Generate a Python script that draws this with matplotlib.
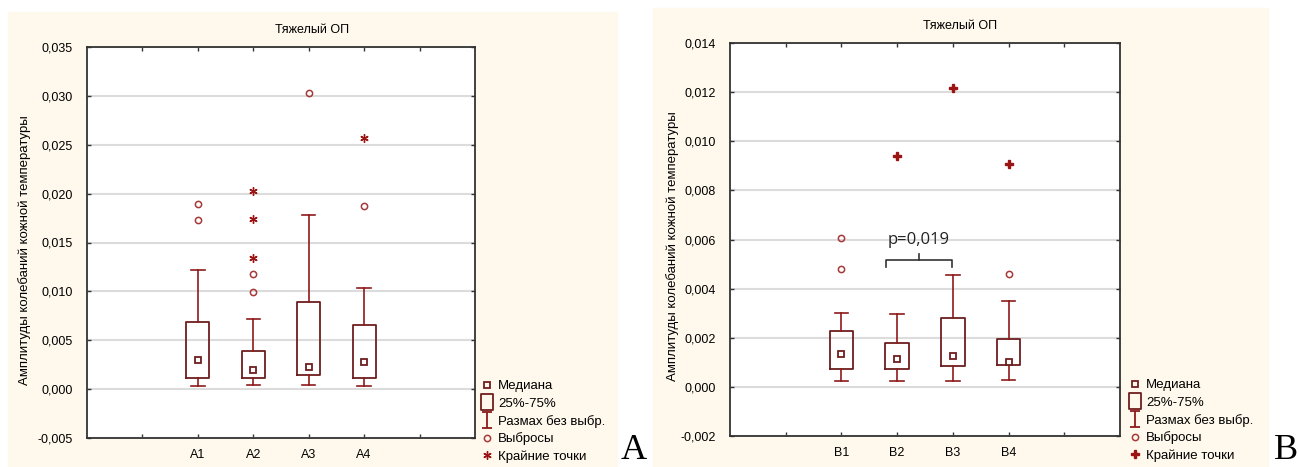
import matplotlib
matplotlib.use('Agg')
import matplotlib.pyplot as plt
from matplotlib.patches import Rectangle
from matplotlib.lines import Line2D
from matplotlib.path import Path

plt.rcParams['font.family'] = ['Liberation Sans', 'DejaVu Sans']

# ---- data ------------------------------------------------------------
title = 'Тяжелый ОП'
ylabel = 'Амплитуды колебаний кожной температуры'

A_labels = ['A1', 'A2', 'A3', 'A4']
A_med = [0.0030, 0.0020, 0.0023, 0.0028]
A_q1 = [0.0011, 0.0011, 0.0014, 0.0011]
A_q3 = [0.0069, 0.0039, 0.0089, 0.0066]
A_lo = [0.0003, 0.0004, 0.0004, 0.0003]
A_hi = [0.0122, 0.0072, 0.0178, 0.0103]
A_outliers = [[0.0189, 0.0173], [0.0118, 0.0099], [0.0303], [0.0187]]
A_extremes = [[], [0.0203, 0.0174, 0.0134], [], [0.0257]]
A_yticks = [-0.005, 0.0, 0.005, 0.010, 0.015, 0.020, 0.025, 0.030, 0.035]

B_labels = ['B1', 'B2', 'B3', 'B4']
B_med = [0.00133, 0.00112, 0.00127, 0.00103]
B_q1 = [0.00073, 0.00071, 0.00086, 0.00088]
B_q3 = [0.00227, 0.00178, 0.00280, 0.00193]
B_lo = [0.00023, 0.00023, 0.00023, 0.00026]
B_hi = [0.00302, 0.00295, 0.00456, 0.00351]
B_outliers = [[0.00608, 0.00480], [], [], [0.00460]]
B_extremes = [[], [0.00940], [0.01218], [0.00909]]
B_yticks = [-0.002, 0.0, 0.002, 0.004, 0.006, 0.008, 0.010, 0.012, 0.014]

legend_labels = ['Медиана', '25%-75%', 'Размах без выбр.', 'Выбросы', 'Крайние точки']
p_text = 'p=0,019'

# ---- colours ---------------------------------------------------------
cream = '#fff9ed'
box_c = '#6e1e1e'
whis_c = '#8f1a1a'
out_c = '#a63a3a'
ext_c = '#9a1414'
grid_c = '#dcdcdc'

# legend markers: I-shaped whisker and tall rectangle box
I_path = Path([(-0.6, 1), (0.6, 1), (0, 1), (0, -1), (-0.6, -1), (0.6, -1)],
              [Path.MOVETO, Path.LINETO, Path.MOVETO, Path.LINETO,
               Path.MOVETO, Path.LINETO])
box_path = Path([(-0.75, -1), (0.75, -1), (0.75, 1), (-0.75, 1), (-0.75, -1)],
                [Path.MOVETO, Path.LINETO, Path.LINETO, Path.LINETO, Path.CLOSEPOLY])


def fmt(v):
    return ('%.3f' % v).replace('.', ',')


def panel(ax, labels, med, q1, q3, lo, hi, outl, extr, yticks, ext_marker, ext_ms):
    pos = [2, 3, 4, 5]
    stats = []
    for i in range(4):
        stats.append(dict(med=med[i], q1=q1[i], q3=q3[i],
                          whislo=lo[i], whishi=hi[i], fliers=[]))
    ax.bxp(stats, positions=pos, widths=0.42, showfliers=False,
           boxprops=dict(color=box_c, linewidth=1.3),
           whiskerprops=dict(color=whis_c, linewidth=1.2),
           capprops=dict(color=whis_c, linewidth=1.2),
           medianprops=dict(visible=False),
           capwidths=0.24, zorder=3)
    ax.plot(pos, med, 's', ms=5, mfc='white', mec=box_c, mew=1.3, ls='none', zorder=4)
    for p, vals in zip(pos, outl):
        ax.plot([p] * len(vals), vals, 'o', ms=4.5, mfc='none', mec=out_c,
                mew=1.1, ls='none', zorder=4)
    for p, vals in zip(pos, extr):
        ax.plot([p] * len(vals), vals, ls='none', marker=ext_marker, ms=ext_ms,
                color=ext_c, mec=ext_c, mew=1.0, zorder=4)

    ax.set_xlim(0, 7)
    ax.set_ylim(yticks[0], yticks[-1])
    ax.set_yticks(yticks)
    ax.set_yticklabels([fmt(v) for v in yticks])
    ax.set_xticks([1, 2, 3, 4, 5, 6])
    ax.set_xticklabels([''] + labels + [''])
    ax.tick_params(direction='in', length=3, width=1, color='#333333',
                   top=True, right=True, labelsize=9, pad=8)
    ax.tick_params(axis='y', pad=10)
    ax.yaxis.grid(True, color=grid_c, linewidth=1.5, zorder=0)
    ax.set_axisbelow(True)
    for s in ax.spines.values():
        s.set_color('#333333')
        s.set_linewidth(1.3)

    handles = [
        Line2D([], [], ls='none', marker='s', ms=5, mfc='none', mec=box_c, mew=1.3),
        Line2D([], [], ls='none', marker=box_path, ms=12, mfc='none', mec=box_c, mew=1.3),
        Line2D([], [], ls='none', marker=I_path, ms=12, color=whis_c, mew=1.3),
        Line2D([], [], ls='none', marker='o', ms=4.5, mfc='none', mec=out_c, mew=1.1),
        Line2D([], [], ls='none', marker=ext_marker, ms=ext_ms, color=ext_c, mew=1.0),
    ]
    return handles


fig = plt.figure(figsize=(13, 4.67), dpi=100)

# cream panel backgrounds
fig.patches.append(Rectangle((8 / 1300, 0), 609 / 1300, 455 / 467,
                             transform=fig.transFigure, color=cream, zorder=-10))
fig.patches.append(Rectangle((653 / 1300, 0), 615 / 1300, 459 / 467,
                             transform=fig.transFigure, color=cream, zorder=-10))

# ---- panel A ---------------------------------------------------------
axA = fig.add_axes([87 / 1300, 1 - 438 / 467, 388 / 1300, 391 / 467])
hA = panel(axA, A_labels, A_med, A_q1, A_q3, A_lo, A_hi, A_outliers, A_extremes,
           A_yticks, (6, 2, 0), 6)
fig.text(312 / 1300, 1 - 30 / 467, title, ha='center', va='center', fontsize=9)
fig.text(25 / 1300, 1 - 250 / 467, ylabel, rotation=90, ha='center', va='center',
         fontsize=9.5)
fig.legend(hA, legend_labels, loc='lower left',
           bbox_to_anchor=(481 / 1300, 4 / 467), bbox_transform=fig.transFigure,
           frameon=False, fontsize=9.5, handlelength=0.9, handletextpad=0.4,
           labelspacing=0.38, borderpad=0, borderaxespad=0)
fig.text(634 / 1300, 0 / 467, 'A', ha='center', va='bottom', fontsize=26,
         family='Liberation Serif')

# ---- panel B ---------------------------------------------------------
axB = fig.add_axes([730 / 1300, 1 - 436 / 467, 390 / 1300, 393 / 467])
hB = panel(axB, B_labels, B_med, B_q1, B_q3, B_lo, B_hi, B_outliers, B_extremes,
           B_yticks, 'P', 6)
fig.text(960 / 1300, 1 - 26 / 467, title, ha='center', va='center', fontsize=9)
fig.text(673 / 1300, 1 - 246 / 467, ylabel, rotation=90, ha='center', va='center',
         fontsize=9.5)
fig.legend(hB, legend_labels, loc='lower left',
           bbox_to_anchor=(1129 / 1300, 5 / 467), bbox_transform=fig.transFigure,
           frameon=False, fontsize=9.5, handlelength=0.9, handletextpad=0.4,
           labelspacing=0.38, borderpad=0, borderaxespad=0)
fig.text(1286 / 1300, 0 / 467, 'B', ha='center', va='bottom', fontsize=26,
         family='Liberation Serif')

# significance bracket between B2 and B3
bx0, bx1 = 2.8, 3.98
by0, by1, bym = 0.00487, 0.00518, 0.0054
bxm = (bx0 + bx1) / 2
axB.plot([bx0, bx0, bx1, bx1], [by0, by1, by1, by0], color='#333333', lw=1.2, zorder=5)
axB.plot([bxm, bxm], [by1, bym], color='#333333', lw=1.2, zorder=5)
axB.text(bxm, 0.0060, p_text, ha='center', va='center', fontsize=12,
         family=['Open Sans', 'DejaVu Sans'], color='#222222')

fig.savefig('out.png', dpi=100)
